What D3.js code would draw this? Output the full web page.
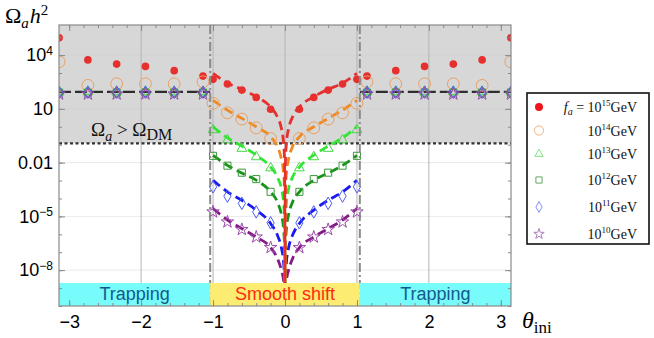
<!DOCTYPE html>
<html>
<head>
<meta charset="utf-8">
<script src="https://cdn.jsdelivr.net/npm/d3@7"></script>
<style>
  body { margin: 0; background: #fff; }
  text { font-family: "Liberation Sans", Arial, sans-serif; }
  .serif { font-family: "Liberation Serif", "Times New Roman", serif; }
</style>
</head>
<body>
<svg id="chart" width="654" height="338"></svg>
<script>
// ---- data (values are log10 of Omega_a h^2) ----
const faExp = ["15", "14", "13", "12", "11", "10"];

// dashed curves, smooth-shift region (mirrored for negative theta)
const curveTheta = [1, 0.8, 0.6, 0.4, 0.2, 0.1, 0.05, 0.02, 0.005, 0.0005];
const curveLog15 = [2.98, 2.44, 2.09, 1.68, 1.10, 0.50, -0.10, -0.90, -2.10, -10];
const curveLog14 = [1.47, 0.93, 0.47, 0.00, -0.56, -1.15, -1.80, -2.60, -3.80, -10];
const curveLog13 = [0.00, -0.62, -1.08, -1.58, -2.25, -2.85, -3.45, -4.25, -5.45, -10];
const curveLog12 = [-1.60, -2.15, -2.58, -2.98, -3.63, -4.25, -4.90, -5.70, -6.90, -10];
const curveLog11 = [-2.98, -3.63, -4.10, -4.65, -5.40, -6.10, -6.75, -7.55, -8.75, -10];
const curveLog10 = [-4.56, -5.20, -5.68, -6.15, -6.74, -7.40, -8.00, -8.60, -9.60, -10];

// simulation points, smooth-shift region
const markTheta = [1.0, 0.8, 0.6, 0.4, 0.2];
const markLog15 = [2.65, 2.39, 2.05, 1.64, 0.98];
const markLog14 = [1.31, 0.78, 0.43, -0.06, -0.65];
const markLog13 = [-0.17, -0.74, -1.21, -1.68, -2.30];
const markLog12 = [-1.62, -2.17, -2.56, -2.92, -3.63];
const markLog11 = [-3.35, -3.87, -4.27, -4.75, -5.36];
const markLog10 = [-4.75, -5.31, -5.73, -6.15, -6.74];

// simulation points, trapping region
const trapTheta = [1.14, 1.54, 1.94, 2.34, 2.74, 3.14];
const trapLog15 = [2.83, 3.13, 3.37, 3.50, 3.73, 4.97];
const trapLog14 = [2.51, 2.40, 2.40, 2.40, 2.31, 3.63];
const trapLog13 = [1.97, 1.97, 1.97, 1.97, 1.97, 1.97];
const trapLog12 = [1.91, 1.91, 1.91, 1.91, 1.91, 1.91];
const trapLog11 = [1.93, 1.93, 1.93, 1.93, 1.93, 1.93];
const trapLog10 = [1.83, 1.83, 1.83, 1.83, 1.83, 1.83];

const trapLevelLog = 1.95;   // black dashed line
const dmLevel = 0.12;        // Omega_DM h^2
const regionEdge = 1.04;     // dash-dot boundary
const xTicks = [-3, -2, -1, 0, 1, 2, 3];
const xGrid = [-2, -1, 0, 1, 2];
const yMajor = [1e-8, 1e-5, 1e-2, 10, 1e4];
const yTickText = [["10", "\u22128"], ["10", "\u22125"], ["0.01", ""], ["10", ""], ["10", "4"]];

// ---- styles ----
const series = [
  { exp: faExp[0], curve: curveLog15, mark: markLog15, trap: trapLog15, line: "#e5302e", color: "#e5302e", legend: "#f0141a", sym: d3.symbolCircle, size: 46, lsize: 50, filled: true },
  { exp: faExp[1], curve: curveLog14, mark: markLog14, trap: trapLog14, line: "#ef8a22", color: "#eaa062", legend: "#f4b27a", sym: d3.symbolCircle, size: 110, lsize: 66 },
  { exp: faExp[2], curve: curveLog13, mark: markLog13, trap: trapLog13, line: "#33e633", color: "#45d845", legend: "#80e880", sym: d3.symbolTriangle, size: 42, lsize: 30 },
  { exp: faExp[3], curve: curveLog12, mark: markLog12, trap: trapLog12, line: "#179417", color: "#3a9a3a", legend: "#60aa60", sym: d3.symbolSquare, size: 50, lsize: 38 },
  { exp: faExp[4], curve: curveLog11, mark: markLog11, trap: trapLog11, line: "#1a1aee", color: "#4a5cf5", legend: "#7f8ff7", sym: d3.symbolDiamond, size: 45, lsize: 34 },
  { exp: faExp[5], curve: curveLog10, mark: markLog10, trap: trapLog10, line: "#841a84", color: "#9a4aaa", legend: "#b07cc0", sym: d3.symbolStar, size: 48, lsize: 34 }
];

const L = 59, R = 511, T = 25, B = 306;
const svg = d3.select("#chart");

const x = d3.scaleLinear().domain([-Math.PI, Math.PI]).range([L, R]);
const y = d3.scaleLog().domain([1e-10, Math.pow(10, 5.68)]).range([B, T]);
const yl = v => y(Math.pow(10, v));

svg.append("clipPath").attr("id", "plot")
  .append("rect").attr("x", L).attr("y", T).attr("width", R - L).attr("height", B - T);

// grey excluded region
svg.append("rect").attr("x", L).attr("y", T).attr("width", R - L)
  .attr("height", y(dmLevel) - T).attr("fill", "#d7d7d7");

// grid
svg.append("g").selectAll("line").data(yMajor).join("line")
  .attr("x1", L).attr("x2", R).attr("y1", d => y(d)).attr("y2", d => y(d))
  .attr("stroke", "#cfcfcf").attr("stroke-opacity", 0.45).attr("stroke-width", 1);
svg.append("g").selectAll("line").data(xGrid).join("line")
  .attr("x1", d => x(d)).attr("x2", d => x(d)).attr("y1", T).attr("y2", B)
  .attr("stroke", "#b4b4b4").attr("stroke-width", 1);

// trapping level (dashed) and DM line (dotted)
[[-Math.PI, -regionEdge], [regionEdge, Math.PI]].forEach(([a, b]) => {
  svg.append("line").attr("x1", x(a)).attr("x2", x(b))
    .attr("y1", yl(trapLevelLog)).attr("y2", yl(trapLevelLog))
    .attr("stroke", "#2e2e2e").attr("stroke-width", 2.4).attr("stroke-dasharray", "12,4");
});
svg.append("line").attr("x1", L).attr("x2", R).attr("y1", y(dmLevel)).attr("y2", y(dmLevel))
  .attr("stroke", "#333").attr("stroke-width", 2.2).attr("stroke-dasharray", "3,2.5");

// label in grey area
const dmt = svg.append("text").attr("class", "serif").attr("x", 91).attr("y", 136)
  .attr("font-size", 19).attr("fill", "#111");
dmt.append("tspan").text("\u03A9");
dmt.append("tspan").attr("font-size", 14).attr("font-style", "italic").attr("dy", 5).text("a");
dmt.append("tspan").attr("dy", -5).text(" > \u03A9");
dmt.append("tspan").attr("font-size", 16).attr("dy", 4).text("DM");

// curves
const plot = svg.append("g").attr("clip-path", "url(#plot)");
const line = d3.line().x(d => x(d[0])).y(d => yl(d[1])).curve(d3.curveMonotoneX);
series.slice().reverse().forEach(s => {
  const right = curveTheta.map((t, i) => [t, s.curve[i]]).reverse();
  const left = curveTheta.map((t, i) => [-t, s.curve[i]]);
  [left, right].forEach(pts => {
    plot.append("path").attr("d", line(pts)).attr("fill", "none")
      .attr("stroke", s.line).attr("stroke-width", 2.8).attr("stroke-dasharray", "9,5");
  });
});

// markers
series.forEach(s => {
  const pts = [];
  markTheta.forEach((t, i) => { pts.push([t, s.mark[i]]); pts.push([-t, s.mark[i]]); });
  trapTheta.forEach((t, i) => { pts.push([t, s.trap[i]]); pts.push([-t, s.trap[i]]); });
  plot.append("g").selectAll("path").data(pts).join("path")
    .attr("transform", d => `translate(${x(d[0])},${yl(d[1])})`)
    .attr("d", d3.symbol().type(s.sym).size(s.size))
    .attr("fill", s.filled ? s.color : "none")
    .attr("stroke", s.filled ? "none" : s.color).attr("stroke-width", 1);
});

// region boundaries (dash-dot)
[-regionEdge, regionEdge].forEach(t => {
  svg.append("line").attr("x1", x(t)).attr("x2", x(t)).attr("y1", T).attr("y2", B)
    .attr("stroke", "#8a8a8a").attr("stroke-width", 2).attr("stroke-dasharray", "9,3,2,3");
});

// bottom bands
const bandTop = 283;
const bands = [
  { a: -Math.PI, b: -regionEdge, fill: "#78fbfb", label: "Trapping", color: "#135a8a" },
  { a: -regionEdge, b: regionEdge, fill: "#fdec72", label: "Smooth shift", color: "#ff2a10" },
  { a: regionEdge, b: Math.PI, fill: "#78fbfb", label: "Trapping", color: "#135a8a" }
];
bands.forEach(b => {
  svg.append("rect").attr("x", x(b.a)).attr("y", bandTop).attr("width", x(b.b) - x(b.a))
    .attr("height", B - bandTop).attr("fill", b.fill);
  svg.append("text").attr("x", (x(b.a) + x(b.b)) / 2).attr("y", 300)
    .attr("text-anchor", "middle").attr("font-size", 18).attr("fill", b.color).text(b.label);
});

// frame
svg.append("rect").attr("x", L).attr("y", T).attr("width", R - L).attr("height", B - T)
  .attr("fill", "none").attr("stroke", "#8a8a8a").attr("stroke-width", 1.2);

// axes (ticks point inward)
const minorX = d3.range(-15, 16).map(i => i * 0.2).filter(v => Math.abs(v) <= Math.PI);
const yDecades = d3.range(-10, 6).map(e => Math.pow(10, e));
function styleAxis(g) {
  g.select(".domain").remove();
  g.selectAll("line").attr("stroke", "#8a8a8a");
}
svg.append("g").attr("transform", `translate(0,${B})`)
  .call(d3.axisBottom(x).tickValues(minorX).tickSize(-3).tickFormat(""))
  .call(styleAxis);
svg.append("g").attr("transform", `translate(0,${T})`)
  .call(d3.axisTop(x).tickValues(minorX).tickSize(-3).tickFormat(""))
  .call(styleAxis);
svg.append("g").attr("transform", `translate(0,${B})`)
  .call(d3.axisBottom(x).tickValues(xTicks).tickSizeInner(-6).tickSizeOuter(0).tickPadding(9)
    .tickFormat(d3.format("d")))
  .call(styleAxis)
  .call(g => g.selectAll("text").attr("font-size", 18).attr("fill", "#000")
    .attr("font-family", "Liberation Sans, Arial, sans-serif"));
svg.append("g").attr("transform", `translate(0,${T})`)
  .call(d3.axisTop(x).tickValues(xTicks).tickSize(-6).tickFormat(""))
  .call(styleAxis);

svg.append("g").attr("transform", `translate(${L},0)`)
  .call(d3.axisLeft(y).tickValues(yDecades).tickSize(-3).tickFormat(""))
  .call(styleAxis);
svg.append("g").attr("transform", `translate(${R},0)`)
  .call(d3.axisRight(y).tickValues(yDecades).tickSize(-3).tickFormat(""))
  .call(styleAxis);
svg.append("g").attr("transform", `translate(${R},0)`)
  .call(d3.axisRight(y).tickValues(yMajor).tickSize(-6).tickFormat(""))
  .call(styleAxis);
svg.append("g").attr("transform", `translate(${L},0)`)
  .call(d3.axisLeft(y).tickValues(yMajor).tickSizeInner(-6).tickSizeOuter(0).tickPadding(6).tickFormat(""))
  .call(styleAxis)
  .call(g => g.selectAll("text").each(function (d, i) {
    const t = d3.select(this).attr("font-size", 18).attr("fill", "#000")
      .attr("font-family", "Liberation Sans, Arial, sans-serif");
    const [base, sup] = yTickText[i];
    t.append("tspan").text(base);
    if (sup) t.append("tspan").attr("font-size", 12).attr("dy", "-0.55em").text(sup);
  }));

// axis titles
const yt = svg.append("text").attr("class", "serif").attr("x", 5).attr("y", 23).attr("font-size", 22);
yt.append("tspan").text("\u03A9");
yt.append("tspan").attr("font-style", "italic").attr("font-size", 15).attr("dy", 5).text("a");
yt.append("tspan").attr("font-style", "italic").attr("dy", -5).attr("dx", 1).text("h");
yt.append("tspan").attr("font-size", 15).attr("dy", -8).text("2");

const xt = svg.append("text").attr("class", "serif").attr("x", 522).attr("y", 328).attr("font-size", 24);
xt.append("tspan").attr("font-style", "italic").text("\u03B8");
xt.append("tspan").attr("font-size", 17).attr("dy", 5).text("ini");

// legend
const leg = svg.append("g");
leg.append("rect").attr("x", 527).attr("y", 93).attr("width", 122).attr("height", 151)
  .attr("fill", "#fff").attr("stroke", "#111").attr("stroke-width", 1.6);
const rowY = [107, 130.5, 154, 180, 207, 234];
series.forEach((s, i) => {
  leg.append("path").attr("transform", `translate(539,${rowY[i]})`)
    .attr("d", d3.symbol().type(s.sym).size(s.lsize))
    .attr("fill", s.filled ? s.legend : "none")
    .attr("stroke", s.filled ? "none" : s.legend).attr("stroke-width", 1);
  const t = leg.append("text").attr("class", "serif").attr("x", 637).attr("y", rowY[i] + 5)
    .attr("text-anchor", "end").attr("font-size", 14).attr("fill", "#111");
  if (i === 0) {
    t.append("tspan").attr("font-style", "italic").text("f");
    t.append("tspan").attr("font-style", "italic").attr("font-size", 10).attr("dy", 3).text("a");
    t.append("tspan").attr("dy", -3).text(" = 10");
  } else {
    t.append("tspan").text("10");
  }
  t.append("tspan").attr("font-size", 9).attr("dy", -6).text(s.exp);
  t.append("tspan").attr("dy", 6).text("GeV");
});
</script>
</body>
</html>
